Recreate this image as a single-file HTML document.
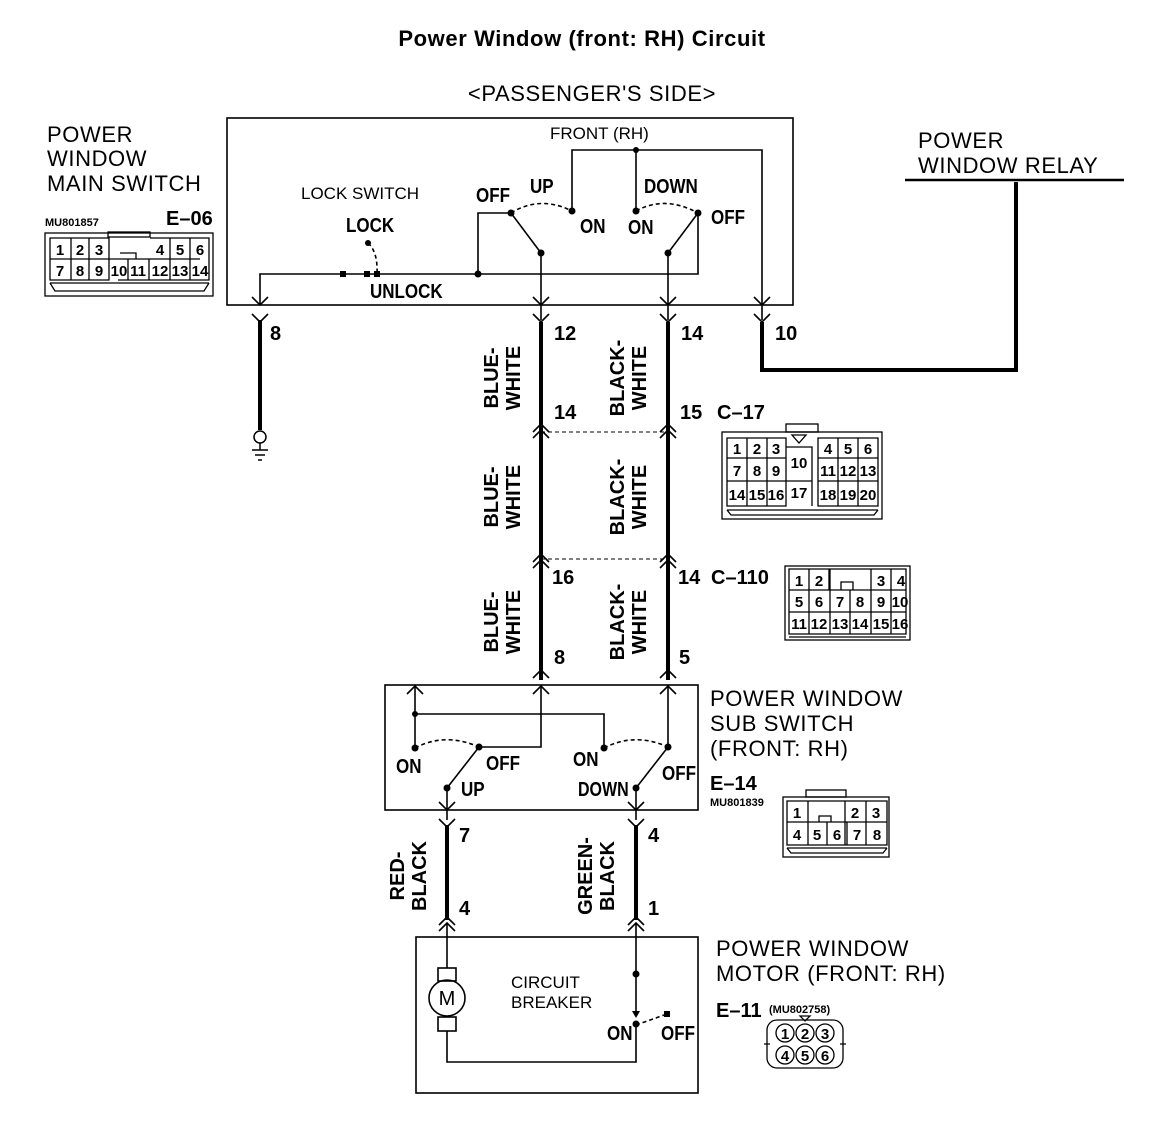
<!DOCTYPE html>
<html><head><meta charset="utf-8"><style>
html,body{margin:0;padding:0;background:#fff}
svg{display:block}
.n{font-family:"Liberation Sans Narrow","Liberation Sans",sans-serif;font-weight:bold}
.s{font-family:"Liberation Sans",sans-serif}
</style></head><body>
<svg width="1152" height="1138" viewBox="0 0 1152 1138" xmlns="http://www.w3.org/2000/svg">
<g fill="none" stroke="#000" stroke-width="1.6">
<rect x="227" y="118" width="566" height="187"/>
<polyline points="260,305 260,274 698,274 698,213"/>
<polyline points="478,274 478,213 511,213"/>
<line x1="511" y1="213" x2="541" y2="253"/>
<line x1="541" y1="253" x2="541" y2="320"/>
<polyline points="572,211 572,150 762,150 762,320"/>
<line x1="636" y1="150" x2="636" y2="211"/>
<line x1="698" y1="213" x2="668" y2="253"/>
<line x1="668" y1="253" x2="668" y2="320"/>
<path d="M511,213 Q540,195 572,211" stroke-dasharray="4,3"/>
<path d="M636,211 Q665,195 698,213" stroke-dasharray="4,3"/>
<path d="M368,243 Q378,252 377,274" stroke-dasharray="4,3"/>
<path d="M252,297L260,305L268,297 M252,314L260,322L268,314"/>
<path d="M533,297L541,305L549,297 M533,314L541,322L549,314"/>
<path d="M660,297L668,305L676,297 M660,314L668,322L676,314"/>
<path d="M754,297L762,305L770,297 M754,314L762,322L770,314"/>
<line x1="905" y1="180" x2="1124" y2="180" stroke-width="2.5"/>
<path d="M533,432L541,424L549,432 M533,438L541,430L549,438 M660,432L668,424L676,432 M660,438L668,430L676,438"/>
<line x1="541" y1="432" x2="668" y2="432" stroke-dasharray="4,3" stroke-width="1"/>
<path d="M533,562L541,554L549,562 M533,568L541,560L549,568 M660,562L668,554L676,562 M660,568L668,560L676,568"/>
<line x1="541" y1="559" x2="668" y2="559" stroke-dasharray="4,3" stroke-width="1"/>
<rect x="385" y="685" width="313" height="125"/>
<path d="M533,678L541,670L549,678 M533,694L541,686L549,694 M660,678L668,670L676,678 M660,694L668,686L676,694 M407,694L415,686L423,694"/>
<line x1="415" y1="686" x2="415" y2="748"/>
<polyline points="415,714 604,714 604,748"/>
<polyline points="541,686 541,747 479,747"/>
<line x1="479" y1="747" x2="447" y2="788"/>
<line x1="447" y1="788" x2="447" y2="820"/>
<line x1="668" y1="686" x2="668" y2="747"/>
<line x1="668" y1="747" x2="636" y2="788"/>
<line x1="636" y1="788" x2="636" y2="820"/>
<path d="M415,748 Q445,732 479,747" stroke-dasharray="4,3"/>
<path d="M604,748 Q635,732 668,747" stroke-dasharray="4,3"/>
<path d="M439,802L447,810L455,802 M439,819L447,827L455,819 M628,802L636,810L644,802 M628,819L636,827L644,819"/>
<rect x="416" y="937" width="282" height="156"/>
<path d="M439,925L447,917L455,925 M439,931L447,923L455,931 M628,925L636,917L644,925 M628,931L636,923L644,931"/>
<line x1="447" y1="923" x2="447" y2="968"/>
<rect x="438" y="968" width="18" height="13"/>
<circle cx="447" cy="998" r="18"/>
<rect x="438" y="1017" width="18" height="14"/>
<polyline points="447,1031 447,1062 636,1062 636,1025"/>
<line x1="636" y1="923" x2="636" y2="1012"/>
<path d="M636,1025 L667,1014" stroke-dasharray="4,3"/>
</g>
<g stroke="#000" stroke-width="4" fill="none">
<line x1="260" y1="320" x2="260" y2="430"/>
<line x1="541" y1="322" x2="541" y2="680"/>
<line x1="668" y1="322" x2="668" y2="680"/>
<polyline points="762,322 762,370 1016,370 1016,182"/>
<line x1="447" y1="825" x2="447" y2="920"/>
<line x1="636" y1="825" x2="636" y2="920"/>
</g>
<g stroke="#000" stroke-width="1.5" fill="none">
<circle cx="260" cy="437" r="6"/>
<line x1="260" y1="443" x2="260" y2="450"/>
<line x1="252" y1="450" x2="268" y2="450"/>
<line x1="255" y1="455" x2="265" y2="455"/>
<line x1="258" y1="460" x2="262" y2="460"/>
</g>
<g fill="#000">
<circle cx="511" cy="213" r="3.5"/><circle cx="572" cy="211" r="3.5"/><circle cx="541" cy="253" r="3.5"/>
<circle cx="636" cy="211" r="3.5"/><circle cx="698" cy="213" r="3.5"/><circle cx="668" cy="253" r="3.5"/>
<circle cx="636" cy="150" r="3"/><circle cx="478" cy="274" r="3.5"/><circle cx="368" cy="243" r="3"/>
<rect x="340" y="271" width="6" height="6"/><rect x="364" y="271" width="6" height="6"/><rect x="374" y="271" width="6" height="6"/>
<circle cx="415" cy="714" r="3"/><circle cx="415" cy="748" r="3.5"/><circle cx="604" cy="748" r="3.5"/>
<circle cx="479" cy="747" r="3.5"/><circle cx="447" cy="788" r="3.5"/><circle cx="668" cy="747" r="3.5"/><circle cx="636" cy="788" r="3.5"/>
<circle cx="636" cy="974" r="3.5"/><circle cx="636" cy="1024" r="3.5"/><rect x="664" y="1011" width="6" height="6"/>
<polygon points="632,1011 640,1011 636,1018"/>
</g>
<text x="582" y="46" text-anchor="middle" class="s" font-weight="bold" font-size="22" letter-spacing="0.6">Power Window (front: RH) Circuit</text>
<g class="s" font-size="22" letter-spacing="0.6">
<text x="592" y="101" text-anchor="middle">&lt;PASSENGER'S SIDE&gt;</text>
<text x="47" y="142">POWER</text><text x="47" y="166">WINDOW</text><text x="47" y="191">MAIN SWITCH</text>
<text x="918" y="148">POWER</text><text x="918" y="173">WINDOW RELAY</text>
<text x="710" y="706">POWER WINDOW</text><text x="710" y="731">SUB SWITCH</text><text x="710" y="756">(FRONT: RH)</text>
<text x="716" y="956">POWER WINDOW</text><text x="716" y="981">MOTOR (FRONT: RH)</text>
</g>
<g class="s" font-size="17">
<text x="550" y="139">FRONT (RH)</text>
<text x="301" y="199">LOCK SWITCH</text>
<text x="511" y="988">CIRCUIT</text><text x="511" y="1008">BREAKER</text>
</g>
<g class="n" font-size="20">
<g transform="translate(476,0) scale(0.85,1) translate(-476,0)"><text x="476" y="202">OFF</text></g>
<g transform="translate(530,0) scale(0.85,1) translate(-530,0)"><text x="530" y="193">UP</text></g>
<g transform="translate(580,0) scale(0.85,1) translate(-580,0)"><text x="580" y="233">ON</text></g>
<g transform="translate(644,0) scale(0.85,1) translate(-644,0)"><text x="644" y="193">DOWN</text></g>
<g transform="translate(628,0) scale(0.85,1) translate(-628,0)"><text x="628" y="234">ON</text></g>
<g transform="translate(711,0) scale(0.85,1) translate(-711,0)"><text x="711" y="224">OFF</text></g>
<g transform="translate(346,0) scale(0.85,1) translate(-346,0)"><text x="346" y="232">LOCK</text></g>
<g transform="translate(370,0) scale(0.85,1) translate(-370,0)"><text x="370" y="298">UNLOCK</text></g>
<text x="270" y="340">8</text><text x="554" y="340">12</text><text x="681" y="340">14</text><text x="775" y="340">10</text>
<text x="554" y="419">14</text><text x="680" y="419">15</text><text x="717" y="419">C–17</text>
<text x="552" y="584">16</text><text x="678" y="584">14</text><text x="711" y="584">C–110</text>
<text x="554" y="664">8</text><text x="679" y="664">5</text>
<g transform="translate(396,0) scale(0.85,1) translate(-396,0)"><text x="396" y="773">ON</text></g>
<g transform="translate(486,0) scale(0.85,1) translate(-486,0)"><text x="486" y="770">OFF</text></g>
<g transform="translate(461,0) scale(0.85,1) translate(-461,0)"><text x="461" y="796">UP</text></g>
<g transform="translate(573,0) scale(0.85,1) translate(-573,0)"><text x="573" y="766">ON</text></g>
<g transform="translate(578,0) scale(0.8,1) translate(-578,0)"><text x="578" y="796">DOWN</text></g>
<g transform="translate(662,0) scale(0.85,1) translate(-662,0)"><text x="662" y="780">OFF</text></g>
<text x="459" y="842">7</text><text x="648" y="842">4</text>
<text x="459" y="915">4</text><text x="648" y="915">1</text>
<g transform="translate(607,0) scale(0.85,1) translate(-607,0)"><text x="607" y="1040">ON</text></g>
<g transform="translate(661,0) scale(0.85,1) translate(-661,0)"><text x="661" y="1040">OFF</text></g>
<text x="166" y="225">E–06</text><text x="710" y="790">E–14</text><text x="716" y="1017">E–11</text>
</g>
<g class="n" font-size="11"><text x="45" y="226">MU801857</text><text x="710" y="806">MU801839</text><text x="769" y="1013">(MU802758)</text></g>
<g class="n" font-size="20">
<g transform="translate(498,378) rotate(-90)"><text x="0" y="0" text-anchor="middle">BLUE-</text><text x="0" y="22" text-anchor="middle">WHITE</text></g>
<g transform="translate(624,378) rotate(-90)"><text x="0" y="0" text-anchor="middle">BLACK-</text><text x="0" y="22" text-anchor="middle">WHITE</text></g>
<g transform="translate(498,497) rotate(-90)"><text x="0" y="0" text-anchor="middle">BLUE-</text><text x="0" y="22" text-anchor="middle">WHITE</text></g>
<g transform="translate(624,497) rotate(-90)"><text x="0" y="0" text-anchor="middle">BLACK-</text><text x="0" y="22" text-anchor="middle">WHITE</text></g>
<g transform="translate(498,622) rotate(-90)"><text x="0" y="0" text-anchor="middle">BLUE-</text><text x="0" y="22" text-anchor="middle">WHITE</text></g>
<g transform="translate(624,622) rotate(-90)"><text x="0" y="0" text-anchor="middle">BLACK-</text><text x="0" y="22" text-anchor="middle">WHITE</text></g>
<g transform="translate(404,876) rotate(-90)"><text x="0" y="0" text-anchor="middle">RED-</text><text x="0" y="22" text-anchor="middle">BLACK</text></g>
<g transform="translate(592,876) rotate(-90)"><text x="0" y="0" text-anchor="middle">GREEN-</text><text x="0" y="22" text-anchor="middle">BLACK</text></g>
</g>
<g fill="none" stroke="#000" stroke-width="1.3">
<rect x="45" y="233" width="168" height="63"/><rect x="108" y="232" width="42" height="5"/>
<path d="M50,238h59v42h-59z M71,238v42 M89,238v42 M50,259h150 M150,238h59v42h-91 M170,238v42 M190,238v42 M128,259v21 M149,259v21 M109,259v21 M120,253h16v6 M50,283h159 M50,283l5,8h149l5,-8"/>
<rect x="722" y="432" width="160" height="87"/><rect x="786" y="424" width="32" height="8"/>
<path d="M727,438h59v68h-59z M747,438v68 M767,438v68 M727,458h59 M727,481h59 M786,447h26v34h-26 M786,481h26v25 M812,447v59 M818,438h60v68h-60z M838,438v68 M858,438v68 M818,458h60 M818,481h60 M727,510h151 M727,510l4,5h143l4,-5 M792,435h14l-7,8z"/>
<rect x="785" y="566" width="125" height="74"/>
<path d="M789,569h117v65h-117z M789,590h117 M789,612h117 M809,569v65 M830,569v21 M850,590v44 M871,569v65 M891,569v65 M830,590v44 M829,569v21 M841,590v-8h12v8 M789,637h117"/>
<rect x="783" y="797" width="106" height="60"/><rect x="806" y="790" width="40" height="7"/>
<path d="M787,801h100v44h-100z M787,822h100 M808,801v44 M845,801v44 M866,801v44 M827,822v23 M847,822v23 M819,822v-6h12v6 M787,848h100 M787,848l4,5h92l4,-5"/>
<rect x="767" y="1020" width="76" height="48" rx="10"/>
<path d="M764,1044h6 M840,1044h6 M800,1016h10l-5,5z"/>
<circle cx="785" cy="1033" r="9"/><circle cx="805" cy="1033" r="9"/><circle cx="825" cy="1033" r="9"/>
<circle cx="785" cy="1055" r="9"/><circle cx="805" cy="1055" r="9"/><circle cx="825" cy="1055" r="9"/>
</g>
<g class="n" font-size="15" text-anchor="middle">
<text x="60" y="255">1</text><text x="80" y="255">2</text><text x="99" y="255">3</text><text x="160" y="255">4</text><text x="180" y="255">5</text><text x="200" y="255">6</text>
<text x="60" y="276">7</text><text x="80" y="276">8</text><text x="99" y="276">9</text><text x="119" y="276">10</text><text x="138" y="276">11</text><text x="160" y="276">12</text><text x="180" y="276">13</text><text x="200" y="276">14</text>
<text x="737" y="454">1</text><text x="757" y="454">2</text><text x="776" y="454">3</text><text x="828" y="454">4</text><text x="848" y="454">5</text><text x="868" y="454">6</text>
<text x="737" y="476">7</text><text x="757" y="476">8</text><text x="776" y="476">9</text><text x="799" y="468">10</text><text x="828" y="476">11</text><text x="848" y="476">12</text><text x="868" y="476">13</text>
<text x="737" y="500">14</text><text x="757" y="500">15</text><text x="776" y="500">16</text><text x="799" y="498">17</text><text x="828" y="500">18</text><text x="848" y="500">19</text><text x="868" y="500">20</text>
<text x="799" y="586">1</text><text x="819" y="586">2</text><text x="881" y="586">3</text><text x="901" y="586">4</text>
<text x="799" y="607">5</text><text x="819" y="607">6</text><text x="840" y="607">7</text><text x="860" y="607">8</text><text x="881" y="607">9</text><text x="900" y="607">10</text>
<text x="799" y="629">11</text><text x="819" y="629">12</text><text x="840" y="629">13</text><text x="860" y="629">14</text><text x="881" y="629">15</text><text x="900" y="629">16</text>
<text x="797" y="818">1</text><text x="855" y="818">2</text><text x="876" y="818">3</text>
<text x="797" y="840">4</text><text x="817" y="840">5</text><text x="837" y="840">6</text><text x="857" y="840">7</text><text x="877" y="840">8</text>
<text x="785" y="1039">1</text><text x="805" y="1039">2</text><text x="825" y="1039">3</text>
<text x="785" y="1061">4</text><text x="805" y="1061">5</text><text x="825" y="1061">6</text>
</g>
<text x="447" y="1005" text-anchor="middle" class="s" font-size="20">M</text>
</svg>
</body></html>
